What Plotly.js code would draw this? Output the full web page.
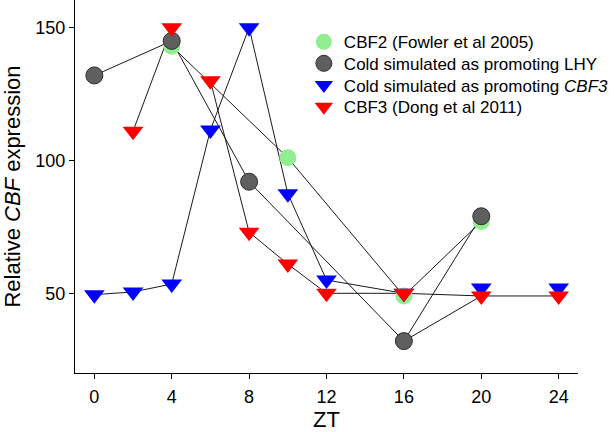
<!DOCTYPE html>
<html>
<head>
<meta charset="utf-8">
<script src="https://cdn.plot.ly/plotly-3.0.1.min.js"></script>
<style>html,body{margin:0;padding:0;background:#fff;}#chart{width:614px;height:432px;}</style>
</head>
<body>
<div id="chart"></div>
<script>
// ZT tick labels
const ztTicks = [0, 4, 8, 12, 16, 20, 24];
const yTicks = [50, 100, 150];

// CBF2 (Fowler et al 2005)
const cbf2X = [4, 10, 16, 20];
const cbf2Y = [143, 101, 49, 77];

// Cold simulated as promoting LHY
const lhyX = [0, 4, 8, 16, 20];
const lhyY = [132, 145, 92, 32, 79];
// extra connector drawn in the original from the ZT16 LHY point
const lhyLinkX = [16, 20];
const lhyLinkY = [32, 49];

// Cold simulated as promoting CBF3
const simX = [0, 2, 4, 6, 8, 10, 12, 16, 20, 24];
const simY = [49.5, 50.5, 53.5, 111.5, 150, 87.5, 55, 50, 52, 52];
const simLineEnd = 8; // line drawn through the first 8 points (ZT0 .. ZT16)

// CBF3 (Dong et al 2011)
const cbf3X = [2, 4, 6, 8, 10, 12, 16, 20, 24];
const cbf3Y = [111, 150, 130, 73, 61, 50, 50, 49, 49];
const cbf3Gap = 2; // no connector between ZT4 and ZT6

const lineStyle = {color: '#1a1a1a', width: 1};

function withGap(arr, idx) {
  return arr.slice(0, idx).concat([null]).concat(arr.slice(idx));
}

const traces = [
  {x: cbf2X, y: cbf2Y, mode: 'lines', line: lineStyle, showlegend: false, hoverinfo: 'skip'},
  {x: lhyX, y: lhyY, mode: 'lines', line: lineStyle, showlegend: false, hoverinfo: 'skip'},
  {x: lhyLinkX, y: lhyLinkY, mode: 'lines', line: lineStyle, showlegend: false, hoverinfo: 'skip'},
  {x: simX.slice(0, simLineEnd), y: simY.slice(0, simLineEnd), mode: 'lines', line: lineStyle, showlegend: false, hoverinfo: 'skip'},
  {x: withGap(cbf3X, cbf3Gap), y: withGap(cbf3Y, cbf3Gap), mode: 'lines', line: lineStyle, showlegend: false, hoverinfo: 'skip', connectgaps: false},
  {x: cbf2X, y: cbf2Y, mode: 'markers', name: 'CBF2 (Fowler et al 2005)', legend: 'legend',
   marker: {symbol: 'circle', size: 17, color: '#90ee90', line: {color: '#90ee90', width: 0}}},
  {x: lhyX, y: lhyY, mode: 'markers', name: 'Cold simulated as promoting LHY', legend: 'legend2',
   marker: {symbol: 'circle', size: 17, color: '#5f5f5f', line: {color: '#2e2e2e', width: 1}}},
  {x: simX, y: simY, mode: 'markers', name: 'Cold simulated as promoting <i>CBF3</i>', legend: 'legend3',
   marker: {symbol: 'triangle-down', size: 18, color: '#0000ff', line: {width: 0}}},
  {x: cbf3X, y: cbf3Y, mode: 'markers', name: 'CBF3 (Dong et al 2011)', legend: 'legend4',
   marker: {symbol: 'triangle-down', size: 18, color: '#ff0000', line: {width: 0}}}
];

const axisCommon = {
  showline: true, linecolor: '#000', linewidth: 1,
  ticks: 'outside', ticklen: 5, tickwidth: 1, tickcolor: '#000',
  showgrid: false, zeroline: false,
  tickfont: {size: 18, color: '#000'}
};

function legendAt(yPaper) {
  return {
    x: 0.455, y: yPaper, xanchor: 'left', yanchor: 'middle',
    font: {size: 17, color: '#000'}, bgcolor: 'rgba(0,0,0,0)', borderwidth: 0
  };
}

const layout = {
  width: 614, height: 432,
  margin: {l: 75, r: 22, t: 0, b: 59, pad: 0},
  paper_bgcolor: '#fff', plot_bgcolor: '#fff',
  font: {family: 'Liberation Sans, Arial, sans-serif', color: '#000'},
  xaxis: Object.assign({}, axisCommon, {
    range: [-1, 25], tickvals: ztTicks, ticktext: ztTicks.map(String),
    ticklabelstandoff: 2,
    title: {text: 'ZT', font: {size: 22}, standoff: 14}
  }),
  yaxis: Object.assign({}, axisCommon, {
    range: [20, 160.4], tickvals: yTicks, ticktext: yTicks.map(String),
    title: {text: 'Relative <i>CBF</i> expression', font: {size: 22}, standoff: 15}
  }),
  legend: legendAt(1 - 42.3 / 373),
  legend2: legendAt(1 - 63.8 / 373),
  legend3: legendAt(1 - 85.5 / 373),
  legend4: legendAt(1 - 107.3 / 373),
  showlegend: true
};

Plotly.newPlot('chart', traces, layout, {staticPlot: true, displayModeBar: false});
</script>
</body>
</html>
